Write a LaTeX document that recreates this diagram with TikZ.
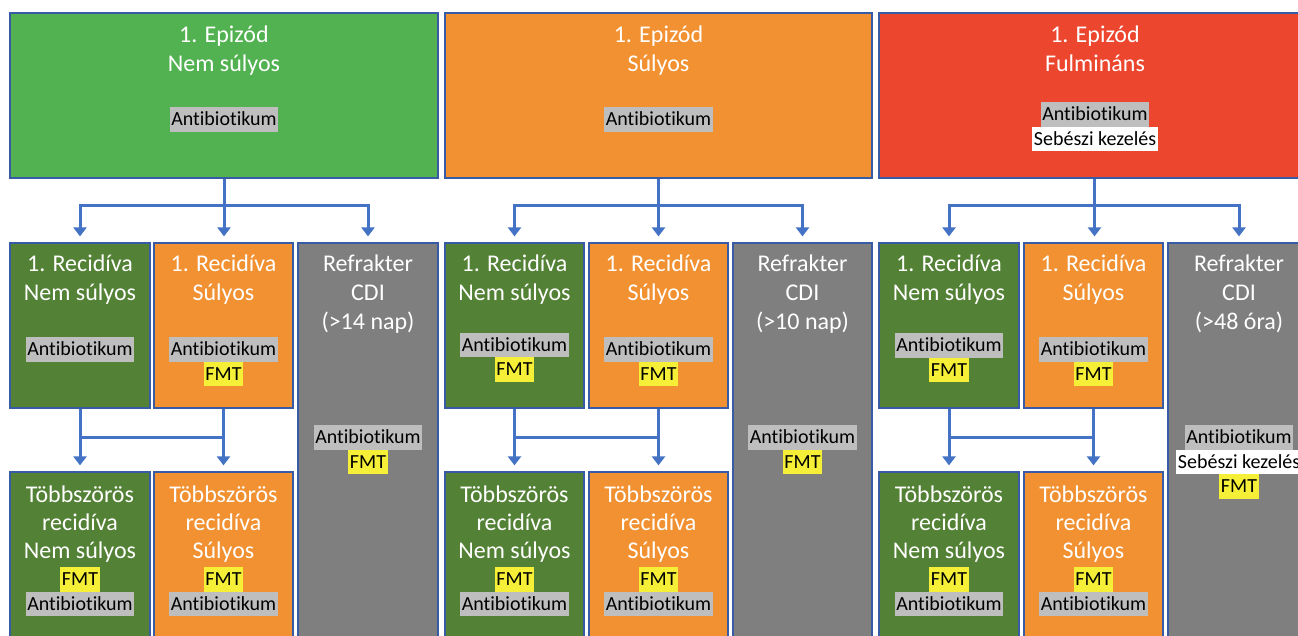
\documentclass[tikz,border=0pt]{standalone}
\usepackage{fontspec}
\setmainfont{Carlito}[Ligatures={NoCommon}]
\usetikzlibrary{arrows.meta}
\definecolor{lgreen}{RGB}{82,178,81}
\definecolor{dgreen}{RGB}{83,129,53}
\definecolor{orng}{RGB}{241,145,49}
\definecolor{rred}{RGB}{236,70,47}
\definecolor{gry}{RGB}{127,127,127}
\definecolor{bord}{RGB}{55,92,165}
\definecolor{arrblue}{RGB}{68,114,196}
\definecolor{hlgray}{RGB}{190,190,190}
\definecolor{hlyel}{RGB}{245,240,55}
\tikzset{
 box/.style={draw=bord, line width=1.2pt, rectangle, inner sep=0pt},
 ttl/.style={text=white, font=\fontsize{24}{29}\selectfont, anchor=base, inner sep=0pt},
 hl/.style={anchor=north, inner xsep=1.5pt, inner ysep=0pt, text height=18.5pt, text depth=6pt, font=\fontsize{20}{24}\selectfont, text=black},
 ab/.style={hl, fill=hlgray},
 fmt/.style={hl, fill=hlyel},
 seb/.style={hl, fill=white},
 conn/.style={draw=arrblue, line width=3pt},
 arr/.style={conn, -{Triangle[width=13pt,length=9pt]}, shorten >=6pt},
}
\begin{document}
\begin{tikzpicture}[x=1pt,y=-1pt]
\useasboundingbox (0,0) rectangle (1298,635);
\clip (0,0) rectangle (1298,635);
\fill[white] (0,0) rectangle (1298,635);
% ---------- boxes ----------
% column 1
\node[box, fill=lgreen, minimum width=428pt, minimum height=165pt] (T1) at (224,95.5) {};
\node[box, fill=dgreen, minimum width=140pt, minimum height=165pt] (G1) at (80,325.5) {};
\node[box, fill=orng, minimum width=139pt, minimum height=165pt] (O1) at (223.5,325.5) {};
\node[box, fill=gry, minimum width=140pt, minimum height=402pt] (R1) at (368,444) {};
\node[box, fill=dgreen, minimum width=140pt, minimum height=173pt] (MG1) at (80,558.5) {};
\node[box, fill=orng, minimum width=139pt, minimum height=173pt] (MO1) at (223.5,558.5) {};
% column 2
\node[box, fill=orng, minimum width=427pt, minimum height=165pt] (T2) at (658.5,95.5) {};
\node[box, fill=dgreen, minimum width=139pt, minimum height=165pt] (G2) at (514.5,325.5) {};
\node[box, fill=orng, minimum width=139pt, minimum height=165pt] (O2) at (658.5,325.5) {};
\node[box, fill=gry, minimum width=139pt, minimum height=402pt] (R2) at (802.5,444) {};
\node[box, fill=dgreen, minimum width=139pt, minimum height=173pt] (MG2) at (514.5,558.5) {};
\node[box, fill=orng, minimum width=139pt, minimum height=173pt] (MO2) at (658.5,558.5) {};
% column 3
\node[box, fill=rred, minimum width=431pt, minimum height=165pt] (T3) at (1094.5,95.5) {};
\node[box, fill=dgreen, minimum width=140pt, minimum height=165pt] (G3) at (949,325.5) {};
\node[box, fill=orng, minimum width=139pt, minimum height=165pt] (O3) at (1093.5,325.5) {};
\node[box, fill=gry, minimum width=142pt, minimum height=402pt] (R3) at (1239,444) {};
\node[box, fill=dgreen, minimum width=140pt, minimum height=173pt] (MG3) at (949,558.5) {};
\node[box, fill=orng, minimum width=139pt, minimum height=173pt] (MO3) at (1093.5,558.5) {};
% ---------- connectors ----------
\foreach \i in {1,2,3} {
  \coordinate (J\i) at ([yshift=-27pt]T\i.south);
  \draw[conn] (T\i.south) -- (J\i);
  \draw[arr] (J\i) -| (G\i.north);
  \draw[arr] (J\i) -- (J\i |- O\i.north);
  \draw[arr] (J\i) -| (R\i.north);
  \coordinate (KL\i) at (G\i.south |- 0,437);
  \coordinate (KR\i) at (O\i.south |- 0,437);
  \draw[conn] (G\i.south) -- (KL\i) -- (KR\i) -- (O\i.south);
  \draw[arr] (KL\i) -- (MG\i.north);
  \draw[arr] (KR\i) -- (MO\i.north);
}
% ---------- texts column 1 ----------
\node[ttl] (t1a) at (224,42) {1. Epizód};
\node[ttl] (t1b) at (224,71) {Nem súlyos};
\node[ab] (t1c) at (224,107) {Antibiotikum};
\node[ttl] (g1a) at (80,271) {1. Recidíva};
\node[ttl] (g1b) at (80,300) {Nem súlyos};
\node[ab] (g1c) at (80,337) {Antibiotikum};
\node[ttl] (o1a) at (223.5,271) {1. Recidíva};
\node[ttl] (o1b) at (223.5,300) {Súlyos};
\node[ab] (o1c) at (223.5,337) {Antibiotikum};
\node[fmt] (o1d) at (223.5,361.5) {FMT};
\node[ttl] (r1a) at (368,271) {Refrakter};
\node[ttl] (r1b) at (368,300) {CDI};
\node[ttl] (r1c) at (368,329) {(>14 nap)};
\node[ab] (r1d) at (368,425) {Antibiotikum};
\node[fmt] (r1e) at (368,449.5) {FMT};
\node[ttl] (mg1a) at (80,502) {Többszörös};
\node[ttl] (mg1b) at (80,530) {recidíva};
\node[ttl] (mg1c) at (80,558) {Nem súlyos};
\node[fmt] (mg1d) at (80,567) {FMT};
\node[ab] (mg1e) at (80,591.5) {Antibiotikum};
\node[ttl] (mo1a) at (223.5,502) {Többszörös};
\node[ttl] (mo1b) at (223.5,530) {recidíva};
\node[ttl] (mo1c) at (223.5,558) {Súlyos};
\node[fmt] (mo1d) at (223.5,567) {FMT};
\node[ab] (mo1e) at (223.5,591.5) {Antibiotikum};
% ---------- texts column 2 ----------
\node[ttl] (t2a) at (658.5,42) {1. Epizód};
\node[ttl] (t2b) at (658.5,71) {Súlyos};
\node[ab] (t2c) at (658.5,107) {Antibiotikum};
\node[ttl] (g2a) at (514.5,271) {1. Recidíva};
\node[ttl] (g2b) at (514.5,300) {Nem súlyos};
\node[ab] (g2c) at (514.5,332.5) {Antibiotikum};
\node[fmt] (g2d) at (514.5,357) {FMT};
\node[ttl] (o2a) at (658.5,271) {1. Recidíva};
\node[ttl] (o2b) at (658.5,300) {Súlyos};
\node[ab] (o2c) at (658.5,337) {Antibiotikum};
\node[fmt] (o2d) at (658.5,361.5) {FMT};
\node[ttl] (r2a) at (802.5,271) {Refrakter};
\node[ttl] (r2b) at (802.5,300) {CDI};
\node[ttl] (r2c) at (802.5,329) {(>10 nap)};
\node[ab] (r2d) at (802.5,425) {Antibiotikum};
\node[fmt] (r2e) at (802.5,449.5) {FMT};
\node[ttl] (mg2a) at (514.5,502) {Többszörös};
\node[ttl] (mg2b) at (514.5,530) {recidíva};
\node[ttl] (mg2c) at (514.5,558) {Nem súlyos};
\node[fmt] (mg2d) at (514.5,567) {FMT};
\node[ab] (mg2e) at (514.5,591.5) {Antibiotikum};
\node[ttl] (mo2a) at (658.5,502) {Többszörös};
\node[ttl] (mo2b) at (658.5,530) {recidíva};
\node[ttl] (mo2c) at (658.5,558) {Súlyos};
\node[fmt] (mo2d) at (658.5,567) {FMT};
\node[ab] (mo2e) at (658.5,591.5) {Antibiotikum};
% ---------- texts column 3 ----------
\node[ttl] (t3a) at (1095,42) {1. Epizód};
\node[ttl] (t3b) at (1095,71) {Fulmináns};
\node[ab] (t3c) at (1095,102) {Antibiotikum};
\node[seb] (t3d) at (1095,126.5) {Sebészi kezelés};
\node[ttl] (g3a) at (949,271) {1. Recidíva};
\node[ttl] (g3b) at (949,300) {Nem súlyos};
\node[ab] (g3c) at (949,333) {Antibiotikum};
\node[fmt] (g3d) at (949,357.5) {FMT};
\node[ttl] (o3a) at (1093.5,271) {1. Recidíva};
\node[ttl] (o3b) at (1093.5,300) {Súlyos};
\node[ab] (o3c) at (1093.5,337) {Antibiotikum};
\node[fmt] (o3d) at (1093.5,361.5) {FMT};
\node[ttl] (r3a) at (1239,271) {Refrakter};
\node[ttl] (r3b) at (1239,300) {CDI};
\node[ttl] (r3c) at (1239,329) {(>48 óra)};
\node[ab] (r3d) at (1239,425) {Antibiotikum};
\node[seb] (r3e) at (1239,449.5) {Sebészi kezelés};
\node[fmt] (r3f) at (1239,474) {FMT};
\node[ttl] (mg3a) at (949,502) {Többszörös};
\node[ttl] (mg3b) at (949,530) {recidíva};
\node[ttl] (mg3c) at (949,558) {Nem súlyos};
\node[fmt] (mg3d) at (949,567) {FMT};
\node[ab] (mg3e) at (949,591.5) {Antibiotikum};
\node[ttl] (mo3a) at (1093.5,502) {Többszörös};
\node[ttl] (mo3b) at (1093.5,530) {recidíva};
\node[ttl] (mo3c) at (1093.5,558) {Súlyos};
\node[fmt] (mo3d) at (1093.5,567) {FMT};
\node[ab] (mo3e) at (1093.5,591.5) {Antibiotikum};
\end{tikzpicture}
\end{document}
